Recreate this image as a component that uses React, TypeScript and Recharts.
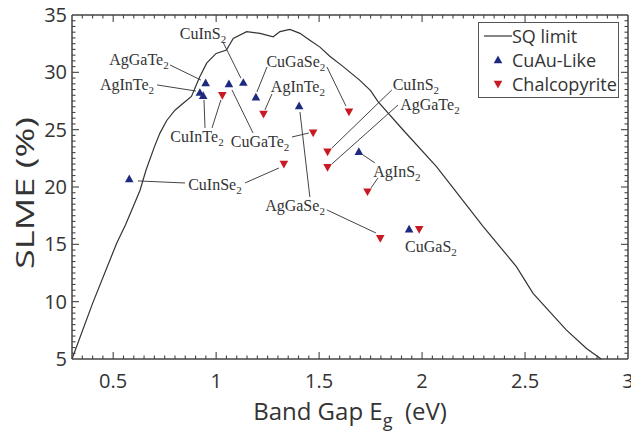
import React from 'react';
import { ComposedChart, Line, Scatter, XAxis, YAxis, ReferenceLine, ReferenceArea, CartesianGrid, Legend, Label } from 'recharts';

// SQ limit curve
const sqGap = [0.3, 0.4, 0.517, 0.56, 0.6, 0.63, 0.66, 0.7, 0.727, 0.76, 0.8, 0.84, 0.88, 0.92, 0.954, 1.0, 1.05, 1.083, 1.148, 1.213, 1.277, 1.31, 1.358, 1.407, 1.455, 1.504, 1.552, 1.617, 1.698, 1.75, 1.786, 1.908, 2.07, 2.297, 2.458, 2.539, 2.7, 2.8, 2.87];
const sqSlme = [5.0, 9.85, 15.1, 16.7, 18.4, 19.7, 21.5, 23.5, 24.7, 25.8, 26.7, 27.3, 27.9, 29.6, 30.8, 31.65, 31.95, 32.95, 33.55, 33.4, 33.1, 33.55, 33.75, 33.4, 32.8, 32.2, 31.4, 30.5, 29.3, 28.4, 27.44, 24.97, 21.77, 16.55, 13.06, 10.73, 7.54, 5.9, 5.0];

// CuAu-like
const cuAuGap = [0.578, 0.921, 0.937, 0.949, 1.062, 1.132, 1.193, 1.403, 1.693, 1.937];
const cuAuSlme = [20.7, 28.23, 27.96, 29.07, 28.98, 29.1, 27.82, 27.07, 23.08, 16.32];

// chalcopyrite
const chalcoGap = [1.03, 1.23, 1.329, 1.471, 1.541, 1.541, 1.645, 1.735, 1.797, 1.986];
const chalcoSlme = [28.0, 26.37, 22.0, 24.74, 23.08, 21.72, 26.57, 19.6, 15.53, 16.32];

const xTicks = [0.5, 1, 1.5, 2, 2.5, 3];
const yTicks = [5, 10, 15, 20, 25, 30, 35];

// compound labels (centre of the text, data units)
const labelNames = ['CuInS2', 'AgGaTe2', 'AgInTe2', 'CuInTe2', 'CuGaTe2', 'CuGaSe2', 'AgInTe2', 'CuInS2', 'AgGaTe2', 'AgInS2', 'CuInSe2', 'AgGaSe2', 'CuGaS2'];
const labelGap = [0.936, 0.625, 0.567, 0.907, 1.213, 1.387, 1.397, 1.97, 2.038, 1.878, 0.994, 1.383, 2.043];
const labelSlme = [33.34, 31.08, 28.9, 24.36, 23.93, 30.9, 28.72, 28.9, 27.15, 21.31, 20.18, 18.35, 14.77];

// leader lines, label -> marker
const leaders = [
  [1.033, 32.65, 1.12, 29.5],
  [0.776, 30.64, 0.926, 29.33],
  [0.713, 28.9, 0.902, 28.37],
  [0.946, 25.15, 0.941, 27.59],
  [0.98, 25.15, 1.023, 27.59],
  [1.179, 24.71, 1.077, 28.46],
  [1.368, 24.36, 1.45, 24.71],
  [1.247, 30.47, 1.198, 28.29],
  [1.538, 30.47, 1.63, 27.07],
  [1.271, 28.11, 1.237, 26.72],
  [1.853, 28.46, 1.562, 23.4],
  [1.883, 27.15, 1.562, 22.01],
  [1.771, 22.1, 1.713, 22.8],
  [1.786, 20.79, 1.752, 19.92],
  [0.62, 20.53, 0.849, 20.35],
  [1.14, 20.35, 1.305, 21.66],
  [1.455, 19.13, 1.407, 26.54],
  [1.538, 18.0, 1.776, 15.99],
];

const BLUE = '#1e2a80';
const RED = '#c81a22';
const INK = '#333';
const FRAME = '#444';
const SANS = '"Open Sans", sans-serif';

const sqData = sqGap.map((x, i) => ({ x, y: sqSlme[i] }));
const cuAuData = cuAuGap.map((x, i) => ({ x, y: cuAuSlme[i] }));
const chalcoData = chalcoGap.map((x, i) => ({ x, y: chalcoSlme[i] }));
const labelData = labelNames.map((name, i) => ({ x: labelGap[i], y: labelSlme[i], name }));

// minor tick positions (majors included), drawn inward on all four sides
const xMinor = Array.from({ length: 53 }, (_, i) => Math.round((0.35 + i * 0.05) * 100) / 100);
const yMinor = Array.from({ length: 59 }, (_, i) => 5.5 + i * 0.5);
const isMajor = (v: number, list: number[]) => list.some((t) => Math.abs(t - v) < 1e-6);
const tickMarks = [
  ...xMinor.map((x) => ({ x, y: 5, dir: 'up', major: isMajor(x, xTicks) })),
  ...xMinor.map((x) => ({ x, y: 35, dir: 'down', major: isMajor(x, xTicks) })),
  ...yMinor.map((y) => ({ x: 0.3, y, dir: 'right', major: isMajor(y, yTicks) })),
  ...yMinor.map((y) => ({ x: 3, y, dir: 'left', major: isMajor(y, yTicks) })),
];

const TickMark = (p: any) => {
  const d = p.payload;
  const len = d.major ? 7 : 3.5;
  const dx = d.dir === 'right' ? len : d.dir === 'left' ? -len : 0;
  const dy = d.dir === 'down' ? len : d.dir === 'up' ? -len : 0;
  return <polyline points={`${p.cx},${p.cy} ${p.cx + dx},${p.cy + dy}`} stroke={FRAME} strokeWidth={1.1} fill="none" />;
};

const UpTri = (p: any) => (
  <polygon points={`${p.cx},${p.cy - 4.5} ${p.cx - 4.3},${p.cy + 3.2} ${p.cx + 4.3},${p.cy + 3.2}`} fill={BLUE} />
);
const DownTri = (p: any) => (
  <polygon points={`${p.cx - 4.3},${p.cy - 3.2} ${p.cx + 4.3},${p.cy - 3.2} ${p.cx},${p.cy + 4.5}`} fill={RED} />
);

const Formula = (p: any) => {
  const name: string = p.payload.name;
  return (
    <text x={p.cx} y={p.cy + 5} textAnchor="middle" fontFamily='"Liberation Serif", serif' fontSize={16} fill={INK}>
      {name.slice(0, -1)}
      <tspan dy={4} fontSize={11}>{name.slice(-1)}</tspan>
    </text>
  );
};

const XTitle = (p: any) => {
  const vb = p.viewBox;
  return (
    <text x={vb.x + vb.width / 2} y={vb.y + 61} textAnchor="middle" fontFamily={SANS} fontSize={24} fill={INK}>
      Band Gap E<tspan dy={7} fontSize={18}>g</tspan>
      <tspan dy={-7}>{'\u00a0 (eV)'}</tspan>
    </text>
  );
};

const YTitle = (p: any) => {
  const vb = p.viewBox;
  return (
    <text transform={`translate(${vb.x + 24},${vb.y + vb.height / 2 + 6}) rotate(-90)`} textAnchor="middle" dominantBaseline="central"
      fontFamily={SANS} fontSize={26} fill={INK} textLength={152} lengthAdjust="spacingAndGlyphs">
      SLME (%)
    </text>
  );
};

const legendItems = [
  { name: 'SQ limit', kind: 'line' },
  { name: 'CuAu-Like', kind: 'up' },
  { name: 'Chalcopyrite', kind: 'down' },
];

const LegendBox = () => (
  <div style={{ border: '1px solid #555', background: '#fff', padding: '1px 3px 1px 3px', fontFamily: SANS, fontSize: 18, color: INK, lineHeight: '24px', whiteSpace: 'nowrap' }}>
    {legendItems.map((it) => (
      <div key={it.name} style={{ display: 'flex', alignItems: 'center' }}>
        <svg width={30} height={24} style={{ flexShrink: 0 }}>
          {it.kind === 'line' && <line x1={2} y1={12} x2={30} y2={12} stroke={INK} strokeWidth={1.2} />}
          {it.kind === 'up' && <UpTri cx={16} cy={12} />}
          {it.kind === 'down' && <DownTri cx={16} cy={12} />}
        </svg>
        <span>{it.name}</span>
      </div>
    ))}
  </div>
);

export default function App() {
  return (
    <div style={{ position: 'absolute', left: 0, top: 0, background: '#fff' }}>
      <ComposedChart width={631} height={436} margin={{ top: 15, right: 3, bottom: 0, left: 0 }}>
        <XAxis xAxisId="x" dataKey="x" type="number" domain={[0.3, 3]} ticks={xTicks} interval={0}
          height={77} tickLine={false} tickSize={0} tickMargin={15} axisLine={{ stroke: FRAME }}
          tick={{ fontSize: 20, fill: INK, fontFamily: SANS }}>
          <Label content={XTitle} />
        </XAxis>
        <YAxis yAxisId="y" dataKey="y" type="number" domain={[5, 35]} ticks={yTicks} interval={0}
          width={72} tickLine={false} tickSize={0} tickMargin={5} axisLine={{ stroke: FRAME }}
          tick={{ fontSize: 20, fill: INK, fontFamily: SANS }}>
          <Label content={YTitle} />
        </YAxis>

        {/* top and right edges of the frame */}
        <CartesianGrid xAxisId="x" yAxisId="y" horizontalValues={[35]} verticalValues={[3]} stroke={FRAME} strokeDasharray="" />
        <ReferenceArea xAxisId="x" yAxisId="y" x1={0.3} x2={3} y1={5} y2={35} ifOverflow="visible"
          fill="none" fillOpacity={0} stroke={FRAME} strokeWidth={1} />
        {leaders.map((s, i) => (
          <ReferenceLine key={i} xAxisId="x" yAxisId="y" segment={[{ x: s[0], y: s[1] }, { x: s[2], y: s[3] }]} stroke="#444" strokeWidth={1} />
        ))}

        <Scatter xAxisId="x" yAxisId="y" data={tickMarks} dataKey="y" shape={TickMark} isAnimationActive={false} legendType="none" />
        <Line xAxisId="x" yAxisId="y" data={sqData} dataKey="y" type="linear" stroke="#333" strokeWidth={1.2} dot={false} isAnimationActive={false} name="SQ limit" />
        <Scatter xAxisId="x" yAxisId="y" data={cuAuData} dataKey="y" shape={UpTri} isAnimationActive={false} name="CuAu-Like" />
        <Scatter xAxisId="x" yAxisId="y" data={chalcoData} dataKey="y" shape={DownTri} isAnimationActive={false} name="Chalcopyrite" />
        <Scatter xAxisId="x" yAxisId="y" data={labelData} dataKey="y" shape={Formula} isAnimationActive={false} legendType="none" />

        <Legend layout="vertical" align="center" verticalAlign="middle" content={LegendBox}
          wrapperStyle={{ top: 22, left: 478, right: 'auto', bottom: 'auto', width: 141 }} />
      </ComposedChart>
    </div>
  );
}
